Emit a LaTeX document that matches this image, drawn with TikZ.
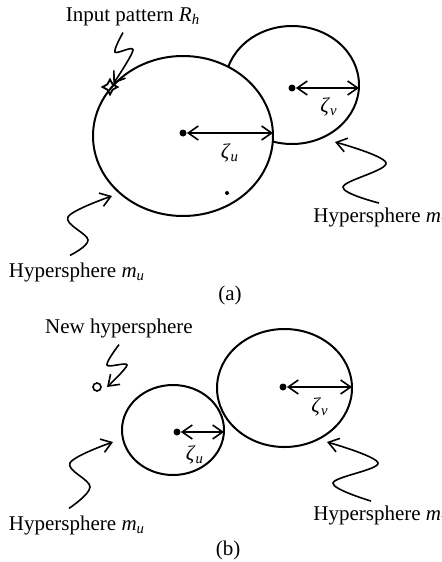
\documentclass[tikz,border=0pt]{standalone}
\usepackage{fontspec}
\setmainfont{Liberation Serif}
\usetikzlibrary{arrows.meta,shapes.geometric}
% italic symbol with italic subscript, both in the text face
\newcommand{\vsub}[2]{\textit{#1}$_{\mathit{#2}}$}

\begin{document}
\begin{tikzpicture}[x=0.5pt,y=-0.5pt,font=\fontsize{10.5}{12.5}\selectfont,>={Straight Barb[length=5pt,width=7pt]},
  rim/.style={ellipse,draw,line width=1pt,inner sep=0pt,outer sep=0pt},
  ctr/.style={circle,fill,inner sep=0pt,minimum size=3.5pt},
  radius/.style={<->,line width=0.8pt},
  squig/.style={->,line width=0.8pt}]
  \useasboundingbox (0,0) rectangle (442,562);
  % ===== (a) =====
  % mv first, mu filled white on top hides the overlap
  \node[rim,minimum width=67pt,minimum height=59pt] (mva) at (292,85) {};
  \node[rim,fill=white,minimum width=90pt,minimum height=80pt] (mua) at (183,136) {};
  \node[ctr] (cua) at (183,133) {};
  \node[ctr] (cva) at (292,88) {};
  \node[ctr,minimum size=2pt] (dota) at (227,193) {};
  \draw[radius] (cua) -- (cua -| mua.east);
  \draw[radius] (cva) -- (cva -| mva.east);
  \node (zua) at (230,153) {\vsub{ζ}{u}};
  \node (zva) at (329,107) {\vsub{ζ}{v}};
  % input pattern on the rim of mu
  \node[star,star points=4,star point ratio=2,draw,line width=0.9pt,inner sep=0pt,minimum size=7.5pt] (rh) at (110,87) {};
  \node[anchor=base] (lrh) at (133,21) {Input pattern \vsub{R}{h}};
  \draw[squig] plot[smooth,tension=0.55] coordinates {([xshift=-5pt]lrh.south) (115,52) (133,50) (rh.north east)};
  % labels
  \node[anchor=base] (lmua) at (77,277) {Hypersphere \vsub{m}{u}};
  \node[anchor=base west,inner sep=0pt] (lmva) at (313,222) {Hypersphere \vsub{m}{v}};
  \draw[squig] plot[smooth,tension=0.6] coordinates {([xshift=-3.5pt]lmua.north) (88,240) (68,217) (112,196)};
  \draw[squig] plot[smooth,tension=0.6] coordinates {([xshift=33pt,yshift=2pt]lmva.north west) (343,187) (386,163) (335,142)};
  \node[anchor=base] (cap-a) at (230,300) {(a)};
  % ===== (b) =====
  \node[rim,minimum width=51pt,minimum height=45pt] (mub) at (173,430) {};
  \node[rim,minimum width=67.5pt,minimum height=59pt] (mvb) at (284.5,388) {};
  \node[ctr] (cub) at (177,432) {};
  \node[ctr] (cvb) at (283,387) {};
  \draw[radius] (cub) -- (cub -| mub.east);
  \draw[radius] (cvb) -- (cvb -| mvb.east);
  \node (zub) at (195,455) {\vsub{ζ}{u}};
  \node (zvb) at (320,407) {\vsub{ζ}{v}};
  % new hypersphere
  \node[circle,draw,line width=0.8pt,inner sep=0pt,minimum size=4pt] (newh) at (97,387) {};
  \node[anchor=base] (lnew) at (119,333) {New hypersphere};
  \draw[squig] plot[smooth,tension=0.55] coordinates {(lnew.south) (107,365) (127,365) (107,387)};
  \node[anchor=base] (lmub) at (77,530) {Hypersphere \vsub{m}{u}};
  \node[anchor=base west,inner sep=0pt] (lmvb) at (313,520) {Hypersphere \vsub{m}{v}};
  \draw[squig] plot[smooth,tension=0.6] coordinates {([xshift=-4pt]lmub.north) (90,487) (70,463) (113,442)};
  \draw[squig] plot[smooth,tension=0.6] coordinates {([xshift=29pt,yshift=2pt]lmvb.north west) (333,483) (378,463) (327,442)};
  \node[anchor=base] (cap-b) at (228,555) {(b)};
\end{tikzpicture}
\end{document}
